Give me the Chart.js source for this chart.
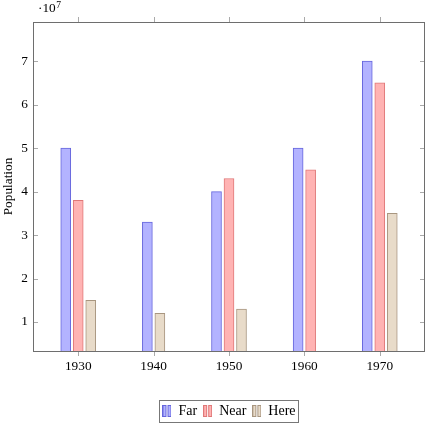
<!DOCTYPE html>
<html>
<head>
<meta charset="utf-8">
<script src="https://cdn.jsdelivr.net/npm/chart.js@4.4.1/dist/chart.umd.min.js"></script>
<style>
  body { margin: 0; background: #fff; }
  #wrap { width: 426px; height: 425px; }
</style>
</head>
<body>
<div id="wrap"><canvas id="chart" width="426" height="425"></canvas></div>
<script>
const years = [1930, 1940, 1950, 1960, 1970]
const far = [50e6, 33e6, 40e6, 50e6, 70e6]
const near = [38e6, null, 43e6, 45e6, 65e6]
const here = [15e6, 12e6, 13e6, null, 35e6]
const yTicks = [1, 2, 3, 4, 5, 6, 7]   // in units of 10^7

const FONT = "'Liberation Serif', 'Times New Roman', serif"
const FS = 13.3

// little two-bar icon like the pgfplots ybar legend
function barIcon(fill, stroke) {
    const c = document.createElement('canvas')
    c.width = 9; c.height = 12
    const ctx = c.getContext('2d')
    ctx.fillStyle = fill
    ctx.strokeStyle = stroke
    ctx.lineWidth = 1
    ;[0.5, 5.5].forEach(x => {
        ctx.fillRect(x, 0.5, 3, 11)
        ctx.strokeRect(x, 0.5, 3, 11)
    })
    return c
}

const colors = {
    far: { bg: '#b3b3ff', line: '#6666dd' },
    near: { bg: '#ffb3b3', line: '#e07878' },
    here: { bg: '#e8dbc9', line: '#a89680' }
}

// axis frame, pgfplots-style tick marks and the ·10^7 multiplier
const framePlugin = {
    id: 'frame',
    afterDraw(chart) {
        const { ctx, chartArea: a, scales } = chart
        ctx.save()
        ctx.strokeStyle = '#aaa'
        ctx.lineWidth = 1
        ctx.beginPath()
        scales.y.ticks.forEach(t => {
            const py = Math.round(scales.y.getPixelForValue(t.value)) + 0.5
            ctx.moveTo(a.left, py); ctx.lineTo(a.left + 5, py)
            ctx.moveTo(a.right, py); ctx.lineTo(a.right - 5, py)
        })
        scales.x.ticks.forEach(t => {
            const px = Math.round(scales.x.getPixelForValue(t.value)) + 0.5
            ctx.moveTo(px, a.bottom); ctx.lineTo(px, a.bottom + 5)
            ctx.moveTo(px, a.top); ctx.lineTo(px, a.top - 5)
        })
        ctx.stroke()

        ctx.strokeStyle = '#6e6e6e'
        ctx.strokeRect(Math.round(a.left) + 0.5, Math.round(a.top) + 0.5,
            Math.round(a.right - a.left) - 1, Math.round(a.bottom - a.top))

        // legend border
        const boxes = chart.legend.legendHitBoxes
        if (boxes && boxes.length) {
            const l = Math.min(...boxes.map(b => b.left)) - 3
            const r = Math.max(...boxes.map(b => b.left + b.width)) + 3
            const t = Math.min(...boxes.map(b => b.top)) - 4
            const b = Math.max(...boxes.map(b => b.top + b.height)) + 4
            ctx.strokeStyle = '#777'
            ctx.strokeRect(Math.round(l) + 0.5, Math.round(t) + 0.5, Math.round(r - l), Math.round(b - t))
        }

        ctx.fillStyle = '#000'
        ctx.textBaseline = 'alphabetic'
        ctx.font = FS + 'px ' + FONT
        ctx.fillText('·10', a.left + 5, 12)
        const w = ctx.measureText('·10').width
        ctx.font = '9.5px ' + FONT
        ctx.fillText('7', a.left + 5 + w + 0.5, 8)
        ctx.restore()
    }
}

const ds = (label, data, c) => ({
    label,
    data,
    backgroundColor: c.bg,
    borderColor: c.line,
    borderWidth: 1,
    barThickness: 12.5,
    maxBarThickness: 10,
    skipNull: true,
    pointStyle: barIcon(c.bg, c.line)
})

new Chart(document.getElementById('chart'), {
    type: 'bar',
    data: {
        labels: years,
        datasets: [
            ds('Far', far, colors.far),
            ds('Near', near, colors.near),
            ds('Here', here, colors.here)
        ]
    },
    options: {
        responsive: false,
        animation: false,
        layout: { padding: { top: 22, right: 1, left: 0, bottom: 0 } },
        scales: {
            x: {
                type: 'linear',
                offset: false,
                min: 1924,
                max: 1976,
                grid: { display: false, drawTicks: false },
                border: { display: false },
                afterFit: s => { s.height = 47 },
                ticks: {
                    stepSize: 10,
                    includeBounds: false,
                    padding: 8,
                    color: '#000',
                    font: { family: FONT, size: FS },
                    callback: v => String(v)
                }
            },
            y: {
                min: 3.33e6,
                max: 7.9e7,
                grid: { display: false, drawTicks: false },
                border: { display: false },
                afterFit: s => { s.width = 33 },
                afterBuildTicks: s => { s.ticks = yTicks.map(v => ({ value: v * 1e7 })) },
                ticks: {
                    padding: 5,
                    color: '#000',
                    font: { family: FONT, size: FS },
                    callback: v => String(Math.round(v / 1e7))
                },
                title: {
                    display: true,
                    text: 'Population',
                    color: '#000',
                    font: { family: FONT, size: FS },
                    padding: { top: 1, bottom: 0 }
                }
            }
        },
        plugins: {
            legend: {
                position: 'bottom',
                fullSize: false,
                maxHeight: 27,
                labels: {
                    usePointStyle: true,
                    boxWidth: 9,
                    boxHeight: 12,
                    padding: 6,
                    color: '#000',
                    font: { family: FONT, size: 14 }
                }
            },
            tooltip: { enabled: false }
        }
    },
    plugins: [framePlugin]
})
</script>
</body>
</html>
